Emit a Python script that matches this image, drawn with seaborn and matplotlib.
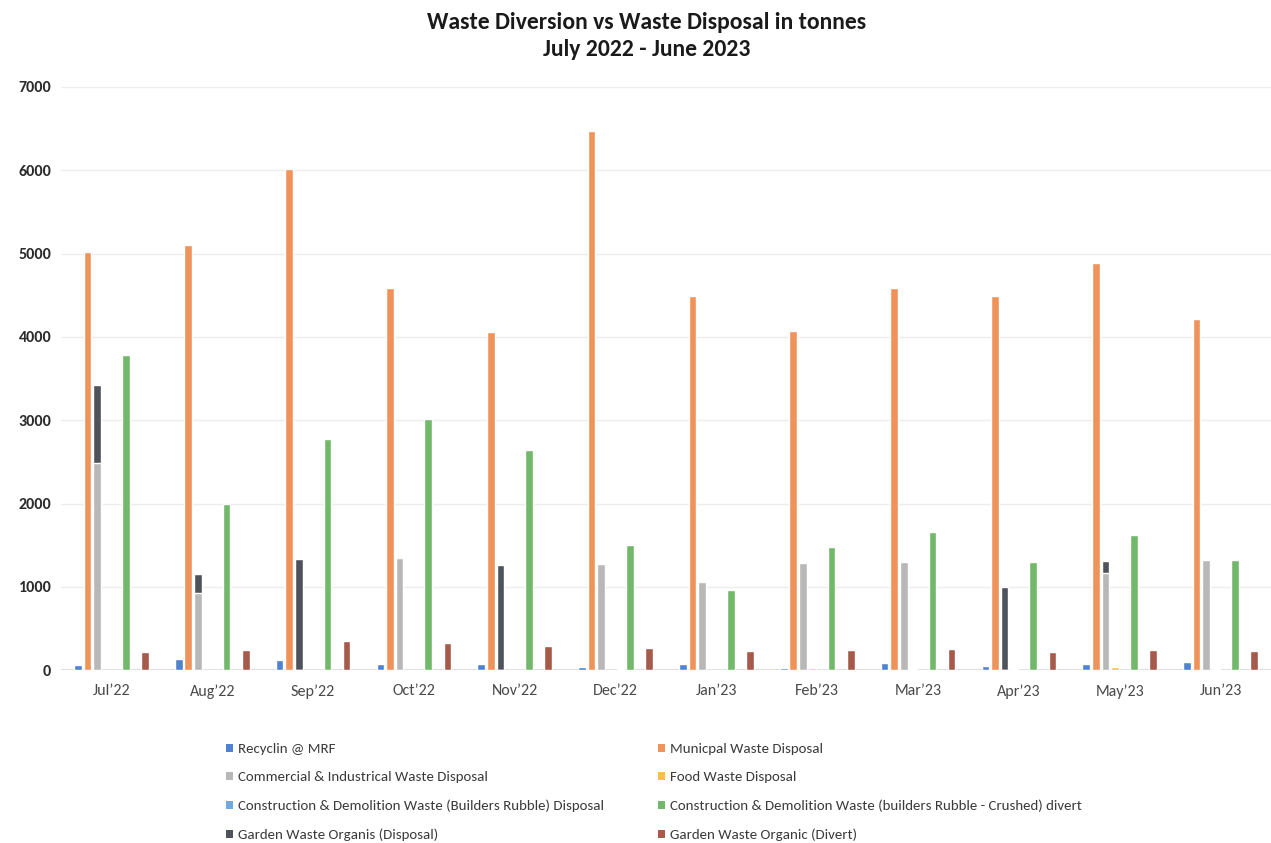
import matplotlib
matplotlib.use("Agg")
import matplotlib.pyplot as plt
from matplotlib.patches import Patch
import seaborn as sns
import pandas as pd

months = ["Jul’22", "Aug’22", "Sep’22", "Oct’22", "Nov’22", "Dec’22",
          "Jan’23", "Feb’23", "Mar’23", "Apr’23", "May’23", "Jun’23"]

series_names = [
    "Recyclin @ MRF",
    "Municpal Waste Disposal",
    "Commercial & Industrical Waste Disposal",
    "Food Waste Disposal",
    "Construction & Demolition Waste (Builders Rubble) Disposal",
    "Construction & Demolition Waste (builders Rubble - Crushed) divert",
    "Garden Waste Organis (Disposal)",
    "Garden Waste Organic (Divert)",
]

recycling = [60, 130, 120, 70, 80, 40, 80, 30, 90, 50, 70, 100]
municipal = [5020, 5100, 6010, 4590, 4060, 6470, 4490, 4070, 4590, 4490, 4890, 4210]
commercial = [2490, 930, 0, 1350, 0, 1270, 1060, 1290, 1300, 0, 1170, 1320]
food = [0, 0, 0, 0, 0, 0, 0, 30, 10, 20, 40, 20]
cd_disposal = [0, 0, 0, 0, 0, 15, 0, 0, 0, 0, 0, 0]
cd_divert = [3780, 2000, 2770, 3010, 2640, 1500, 960, 1480, 1660, 1300, 1620, 1320]
garden_disposal = [3420, 1150, 1330, 0, 1260, 0, 0, 0, 0, 1000, 1310, 0]
garden_divert = [220, 240, 350, 330, 290, 270, 230, 240, 250, 220, 240, 230]

colors = ["#4f82d2", "#f0935a", "#b8b8b8", "#f7c244",
          "#73a9dc", "#72b86a", "#4e535b", "#a65a4a"]

values = [recycling, municipal, commercial, food,
          cd_disposal, cd_divert, garden_disposal, garden_divert]

# Garden disposal shares the commercial bar position and sits behind it
slot_of = {name: name for name in series_names}
slot_of[series_names[6]] = series_names[2]

rows = []
for name, vals in zip(series_names, values):
    for m, v in zip(months, vals):
        rows.append({"Month": m, "Series": name, "Slot": slot_of[name], "Tonnes": v})
df = pd.DataFrame(rows)

sns.set_theme(style="white")
plt.rcParams["font.family"] = ["Carlito", "Archivo Narrow", "Liberation Sans", "DejaVu Sans"]

fig = plt.figure(figsize=(12.71, 8.43), dpi=100)
ax = fig.add_axes([0.048, 0.205, 0.952, 0.692])

for y in range(1000, 7001, 1000):
    ax.axhline(y, color="#ededed", lw=1.0, zorder=0)
ax.axhline(0, color="#d6d6d6", lw=1.2, zorder=0)

common = dict(x="Month", y="Tonnes", hue="Slot", hue_order=series_names, order=months,
              dodge=True, width=0.76, gap=0.2, errorbar=None, saturation=1,
              legend=False, ax=ax)

back = df[df["Series"] == series_names[6]]
sns.barplot(data=back, palette={n: colors[6] for n in series_names}, **common)

front = df[df["Series"] != series_names[6]]
sns.barplot(data=front, palette={n: c for n, c in zip(series_names, colors)}, **common)

ax.set_ylim(0, 7000)
ax.set_xlim(-0.5, 11.5)
ax.set_yticks(range(0, 7001, 1000))
ax.tick_params(axis="y", labelsize=11.5, labelcolor="#2b2b2b", length=0, pad=7)
ax.tick_params(axis="x", labelsize=11.5, labelcolor="#4a4a4a", length=0, pad=10)
for lbl in ax.get_yticklabels():
    lbl.set_fontweight("bold")
ax.set_xlabel("")
ax.set_ylabel("")
for s in ax.spines.values():
    s.set_visible(False)

fig.text(0.509, 0.973, "Waste Diversion vs Waste Disposal in tonnes",
         ha="center", va="center", fontsize=17, fontweight="bold", color="#1a1a1a")
fig.text(0.509, 0.941, "July 2022 - June 2023",
         ha="center", va="center", fontsize=17, fontweight="bold", color="#1a1a1a")

left_idx = [0, 2, 4, 6]
right_idx = [1, 3, 5, 7]
for idx, xpos in ((left_idx, 0.1778), (right_idx, 0.5177)):
    handles = [Patch(facecolor=colors[i], edgecolor="none") for i in idx]
    labels = [series_names[i] for i in idx]
    fig.legend(handles, labels, loc="upper left", bbox_to_anchor=(xpos, 0.1185),
               frameon=False, fontsize=10.7, handlelength=0.5, handleheight=0.5,
               handletextpad=0.3, labelspacing=1.1, borderaxespad=0, borderpad=0,
               labelcolor="#3a3a3a")

fig.savefig("out.png", dpi=100, facecolor="white")
